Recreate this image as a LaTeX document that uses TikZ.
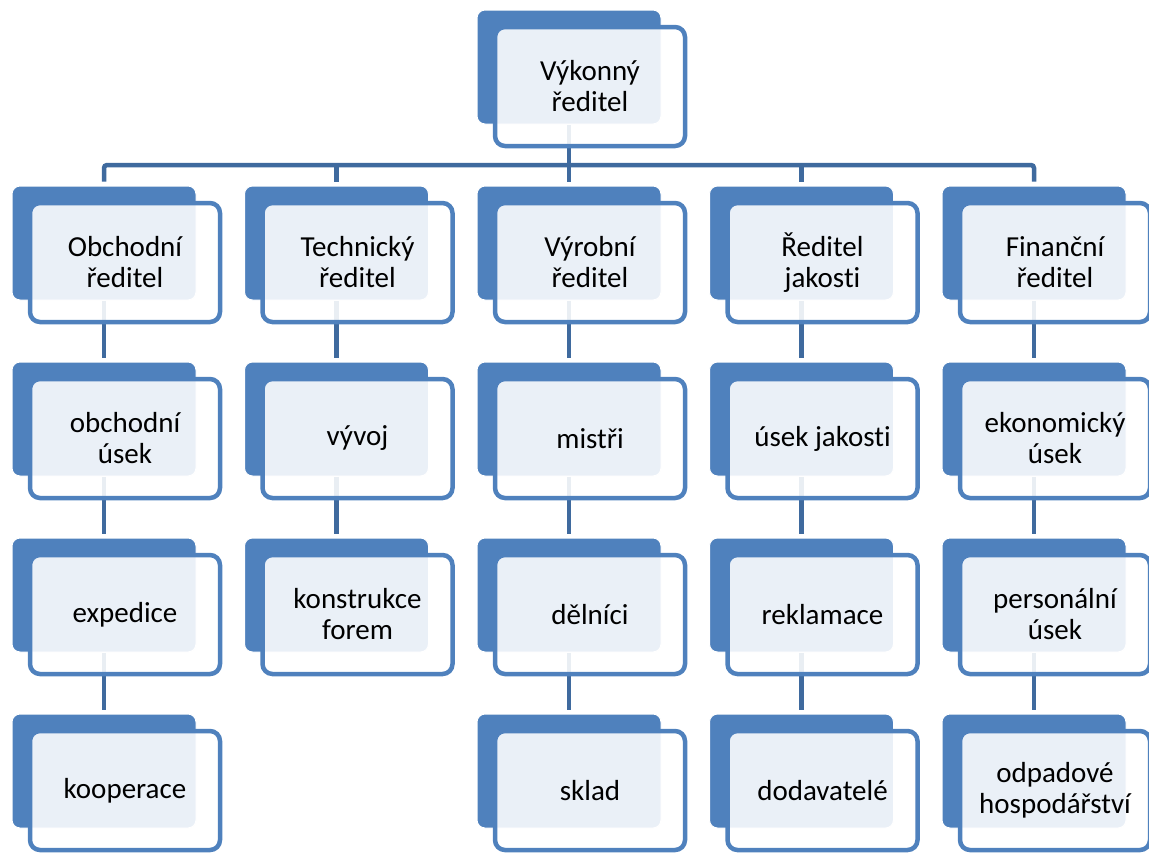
\documentclass[tikz,border=0pt]{standalone}
\usepackage{fontspec}
\setmainfont{Carlito}[Ligatures={NoCommon,NoContextual}]
\usetikzlibrary{backgrounds}
\definecolor{acc}{HTML}{4F81BD}
\definecolor{lnk}{HTML}{3F6A9E}
\tikzset{
 backbox/.style={draw=white, line width=1pt, fill=acc, rounded corners=8pt, minimum width=184pt, minimum height=114pt, inner sep=0pt},
 frontbox/.style={draw=acc, line width=4.5pt, fill=white, fill opacity=0.886, text opacity=1, rounded corners=10pt, minimum width=190pt, minimum height=119pt, inner sep=0pt, align=center, font=\fontsize{29}{31}\selectfont},
 conn/.style={draw=lnk, line width=4.5pt},
}
\newcommand\orgbox[4]{%
 \node[backbox] (#1) at ({#2+92}, {-#3-57}) {};
 \node[frontbox] (#1t) at ({#2+113}, {-#3-76.5}) {#4};}
\begin{document}
\begin{tikzpicture}[x=1pt,y=1pt]
\useasboundingbox (0,0) rectangle (1149,-852);
\coordinate (bus) at (0,-165);
% top
\orgbox{vr}{477}{10}{Výkonný\\ředitel}
% column 1
\orgbox{a1}{12}{186}{Obchodní\\ředitel}
\orgbox{a2}{12}{362}{obchodní\\úsek}
\orgbox{a3}{12}{538}{expedice}
\orgbox{a4}{12}{714}{kooperace}
% column 2
\orgbox{b1}{244.5}{186}{Technický\\ředitel}
\orgbox{b2}{244.5}{362}{vývoj}
\orgbox{b3}{244.5}{538}{konstrukce\\forem}
% column 3
\orgbox{c1}{477}{186}{Výrobní\\ředitel}
\orgbox{c2}{477}{362}{mistři}
\orgbox{c3}{477}{538}{dělníci}
\orgbox{c4}{477}{714}{sklad}
% column 4
\orgbox{d1}{709.5}{186}{Ředitel\\jakosti}
\orgbox{d2}{709.5}{362}{úsek jakosti}
\orgbox{d3}{709.5}{538}{reklamace}
\orgbox{d4}{709.5}{714}{dodavatelé}
% column 5
\orgbox{e1}{942}{186}{Finanční\\ředitel}
\orgbox{e2}{942}{362}{ekonomický\\úsek}
\orgbox{e3}{942}{538}{personální\\úsek}
\orgbox{e4}{942}{714}{odpadové\\hospodářství}
\begin{pgfonlayer}{background}
\draw[conn] (vr.south) -- (vr.south |- bus);
\draw[conn, rounded corners=3pt, shorten <=4pt, shorten >=4pt] (a1.north) -- (a1.north |- bus) -- (e1.north |- bus) -- (e1.north);
\draw[conn, shorten >=4pt] (b1.north |- bus) -- (b1.north);
\draw[conn, shorten >=4pt] (c1.north |- bus) -- (c1.north);
\draw[conn, shorten >=4pt] (d1.north |- bus) -- (d1.north);
\draw[conn, shorten >=4pt] (a1.south) -- (a2.north);
\draw[conn, shorten >=4pt] (a2.south) -- (a3.north);
\draw[conn, shorten >=4pt] (a3.south) -- (a4.north);
\draw[conn, shorten >=4pt] (b1.south) -- (b2.north);
\draw[conn, shorten >=4pt] (b2.south) -- (b3.north);
\draw[conn, shorten >=4pt] (c1.south) -- (c2.north);
\draw[conn, shorten >=4pt] (c2.south) -- (c3.north);
\draw[conn, shorten >=4pt] (c3.south) -- (c4.north);
\draw[conn, shorten >=4pt] (d1.south) -- (d2.north);
\draw[conn, shorten >=4pt] (d2.south) -- (d3.north);
\draw[conn, shorten >=4pt] (d3.south) -- (d4.north);
\draw[conn, shorten >=4pt] (e1.south) -- (e2.north);
\draw[conn, shorten >=4pt] (e2.south) -- (e3.north);
\draw[conn, shorten >=4pt] (e3.south) -- (e4.north);
\end{pgfonlayer}
\end{tikzpicture}
\end{document}
